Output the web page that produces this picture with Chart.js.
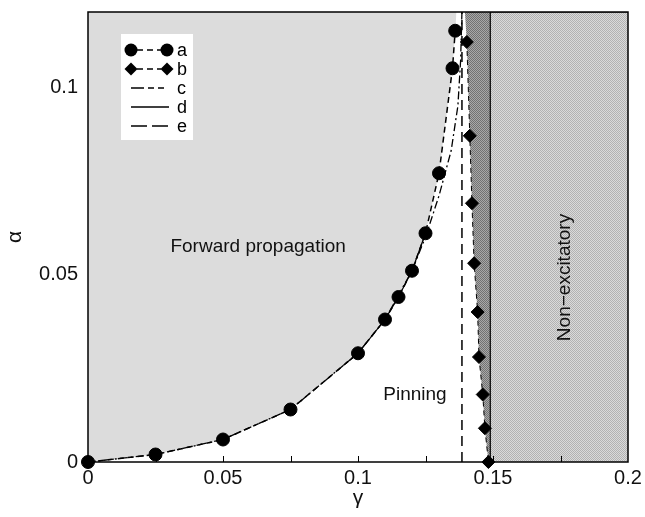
<!DOCTYPE html>
<html lang="en">
<head>
<meta charset="UTF-8">
<title>Phase diagram alpha vs gamma</title>
<script src="https://cdn.jsdelivr.net/npm/chart.js@4.4.1/dist/chart.umd.min.js"></script>
<style>
    body { margin: 0; background: #fff; }
    #chrt { display: block; }
</style>
</head>
<body>
<canvas id="chrt" width="645" height="517"></canvas>
<script>
    // a: circles (boundary of forward propagation)
    const aGamma = [0, 0.025, 0.05, 0.075, 0.1, 0.11, 0.115, 0.12, 0.125, 0.13, 0.135, 0.136]
    const aAlpha = [0, 0.002, 0.006, 0.014, 0.029, 0.038, 0.044, 0.051, 0.061, 0.077, 0.105, 0.115]
    // b: diamonds
    const bGamma = [0.1403, 0.1414, 0.1422, 0.143, 0.1443, 0.1448, 0.1462, 0.147, 0.1483]
    const bAlpha = [0.112, 0.087, 0.069, 0.053, 0.04, 0.028, 0.018, 0.009, 0]
    // c: dash-dot curve
    const cGamma = [0, 0.025, 0.05, 0.075, 0.1, 0.11, 0.12, 0.125, 0.13, 0.1345, 0.137, 0.138, 0.1385]
    const cAlpha = [0, 0.002, 0.006, 0.014, 0.029, 0.038, 0.051, 0.06, 0.071, 0.083, 0.095, 0.107, 0.12]
    // d: solid curve
    const dGamma = [0.095, 0.1, 0.11, 0.115, 0.12, 0.125]
    const dAlpha = [0.026, 0.029, 0.038, 0.044, 0.051, 0.061]
    // e: vertical dashed line
    const eGamma = 0.1385

    // region edges
    const forwardTop = [0.1365, 0.12]
    const darkTop = [0.1396, 0.12]
    const nonExcStart = 0.149

    const xTicks = [0, 0.05, 0.1, 0.15, 0.2]
    const xTickLabels = ['0', '0.05', '0.1', '0.15', '0.2']
    const xMinor = [0.025, 0.05, 0.075, 0.1, 0.125, 0.15, 0.175]
    const yTicks = [0, 0.05, 0.1]
    const yTickLabels = ['0', '0.05', '0.1']
    const xMax = 0.2, yMax = 0.12

    const legendKeys = ['a', 'b', 'c', 'd', 'e']

    let chrt = document.getElementById('chrt').getContext('2d')

    function stipple(c1, c2) {
        let p = document.createElement('canvas')
        p.width = 2; p.height = 2
        let g = p.getContext('2d')
        g.fillStyle = c2; g.fillRect(0, 0, 2, 2)
        g.fillStyle = c1; g.fillRect(0, 0, 1, 1); g.fillRect(1, 1, 1, 1)
        return chrt.createPattern(p, 'repeat')
    }
    const lightPat = stipple('#b2b2b2', '#dadada')
    const darkPat = stipple('#727272', '#a8a8a8')

    const pts = (xs, ys) => xs.map((v, i) => ({ x: v, y: ys[i] }))

    let forward = pts(aGamma, aAlpha).concat([{ x: forwardTop[0], y: forwardTop[1] }])
    let darkEdge = [{ x: darkTop[0], y: darkTop[1] }].concat(pts(bGamma, bAlpha), [{ x: nonExcStart, y: 0 }])
    let nonExc = [{ x: nonExcStart, y: 0 }, { x: nonExcStart, y: yMax }, { x: xMax, y: yMax }]

    const FONT = '"Liberation Sans", Arial, sans-serif'

    const extras = {
        id: 'extras',
        afterDatasetsDraw(chart) {
            const { ctx, chartArea: ca, scales: { x, y } } = chart
            ctx.save()
            ctx.strokeStyle = '#000'
            ctx.fillStyle = '#000'
            ctx.setLineDash([])
            // inward ticks on x axis
            ctx.lineWidth = 1
            xMinor.forEach(v => {
                let px = Math.round(x.getPixelForValue(v)) + 0.5
                ctx.beginPath(); ctx.moveTo(px, ca.bottom); ctx.lineTo(px, ca.bottom - 6); ctx.stroke()
            })
            // frame
            ctx.lineWidth = 1.5
            ctx.strokeRect(ca.left, ca.top, ca.width, ca.height)

            // region labels
            ctx.font = '19px ' + FONT
            ctx.textAlign = 'center'
            ctx.textBaseline = 'middle'
            ctx.fillStyle = '#111'
            ctx.fillText('Forward propagation', x.getPixelForValue(0.063), y.getPixelForValue(0.0575))
            ctx.fillText('Pinning', x.getPixelForValue(0.1211), y.getPixelForValue(0.0179))
            ctx.save()
            ctx.translate(x.getPixelForValue(0.1767), y.getPixelForValue(0.0492))
            ctx.rotate(-Math.PI / 2)
            ctx.fillText('Non\u2212excitatory', 0, 0)
            ctx.restore()

            // legend
            let bx = ca.left + 33, by = ca.top + 22
            ctx.fillStyle = '#fff'
            ctx.fillRect(bx, by, 72, 106)
            ctx.fillStyle = '#000'
            ctx.strokeStyle = '#000'
            let x0 = bx + 10, x1 = bx + 46
            legendKeys.forEach((k, i) => {
                let ly = by + 16 + 19 * i
                ctx.lineWidth = 1.5
                if (i < 2) {
                    ctx.setLineDash([6, 4])
                    ctx.beginPath(); ctx.moveTo(x0 + 6, ly); ctx.lineTo(x1 - 6, ly); ctx.stroke()
                    ctx.setLineDash([])
                    ;[x0, x1].forEach(cx => {
                        ctx.beginPath()
                        if (i === 0) {
                            ctx.arc(cx, ly, 6.5, 0, Math.PI * 2)
                        } else {
                            ctx.moveTo(cx, ly - 6.5); ctx.lineTo(cx + 6.5, ly); ctx.lineTo(cx, ly + 6.5); ctx.lineTo(cx - 6.5, ly)
                            ctx.closePath()
                        }
                        ctx.fill()
                    })
                } else {
                    if (i === 2) ctx.setLineDash([13, 4, 6, 4, 6, 40])
                    else if (i === 3) ctx.setLineDash([])
                    else ctx.setLineDash([16, 5, 16, 40])
                    ctx.beginPath(); ctx.moveTo(x0, ly); ctx.lineTo(x0 + 38, ly); ctx.stroke()
                    ctx.setLineDash([])
                }
                ctx.font = '18px ' + FONT
                ctx.textAlign = 'left'
                ctx.fillText(k, bx + 56, ly + 1)
            })
            ctx.restore()
        }
    }

    const noRegion = { borderColor: 'rgba(0,0,0,0)', borderWidth: 0, pointRadius: 0 }

    new Chart(chrt, {
        type: 'line',
        data: {
            datasets: [
                {
                    label: 'a', data: pts(aGamma, aAlpha), borderColor: '#000', borderWidth: 1.5,
                    borderDash: [6, 4], pointStyle: 'circle', pointRadius: 6.5, pointBorderWidth: 1,
                    pointBackgroundColor: '#000', pointBorderColor: '#000', fill: false, clip: false, order: 1
                },
                {
                    label: 'b', data: pts(bGamma, bAlpha), borderColor: '#000', borderWidth: 1,
                    borderDash: [5, 4], pointStyle: 'rectRot', pointRadius: 6.5, pointBorderWidth: 1,
                    pointBackgroundColor: '#000', pointBorderColor: '#000', fill: false, clip: false, order: 1
                },
                {
                    label: 'c', data: pts(cGamma, cAlpha), borderColor: '#000', borderWidth: 1.3,
                    borderDash: [8, 3, 2, 3], pointRadius: 0, fill: false, order: 2
                },
                {
                    label: 'd', data: pts(dGamma, dAlpha), borderColor: '#000', borderWidth: 1.2,
                    pointRadius: 0, fill: false, order: 2
                },
                {
                    label: 'e', data: [{ x: eGamma, y: 0 }, { x: eGamma, y: yMax }], borderColor: '#000',
                    borderWidth: 1.5, borderDash: [10, 6], pointRadius: 0, fill: false, order: 2
                },
                Object.assign({ label: 'forward', data: forward, fill: 'end', backgroundColor: '#dcdcdc', order: 12 }, noRegion),
                Object.assign({ label: 'dark', data: darkEdge, fill: 'end', backgroundColor: darkPat, order: 11 }, noRegion),
                {
                    label: 'nonexc', data: nonExc, fill: 'origin', backgroundColor: lightPat,
                    borderColor: '#000', borderWidth: 1.2, pointRadius: 0, order: 10
                }
            ]
        },
        options: {
            responsive: false,
            animation: false,
            devicePixelRatio: 1,
            layout: { padding: { left: 0, right: 17, top: 12, bottom: 0 } },
            plugins: { legend: { display: false }, tooltip: { enabled: false } },
            elements: { line: { tension: 0 } },
            scales: {
                x: {
                    type: 'linear', min: 0, max: xMax,
                    grid: { display: false, drawTicks: false },
                    border: { display: false },
                    afterBuildTicks: s => { s.ticks = xTicks.map(v => ({ value: v })) },
                    afterFit: s => { s.height = 55; s.paddingLeft = 0; s.paddingRight = 0 },
                    ticks: {
                        color: '#111', padding: 4, maxRotation: 0, autoSkip: false,
                        font: { family: FONT, size: 20 },
                        callback: (v, i) => xTickLabels[i]
                    },
                    title: { display: true, text: 'γ', color: '#111', font: { family: FONT, size: 21 }, padding: { top: 0, bottom: 6 } }
                },
                y: {
                    type: 'linear', min: 0, max: yMax,
                    grid: { display: false, drawTicks: false },
                    border: { display: false },
                    afterBuildTicks: s => { s.ticks = yTicks.map(v => ({ value: v })) },
                    afterFit: s => { s.width = 88; s.paddingTop = 0; s.paddingBottom = 0 },
                    ticks: {
                        color: '#111', padding: 10, autoSkip: false,
                        font: { family: FONT, size: 20 },
                        callback: (v, i) => yTickLabels[i]
                    },
                    title: { display: true, text: 'α', color: '#111', font: { family: FONT, size: 21 }, padding: { top: 3, bottom: 0 } }
                }
            }
        },
        plugins: [extras]
    })
</script>
</body>
</html>
